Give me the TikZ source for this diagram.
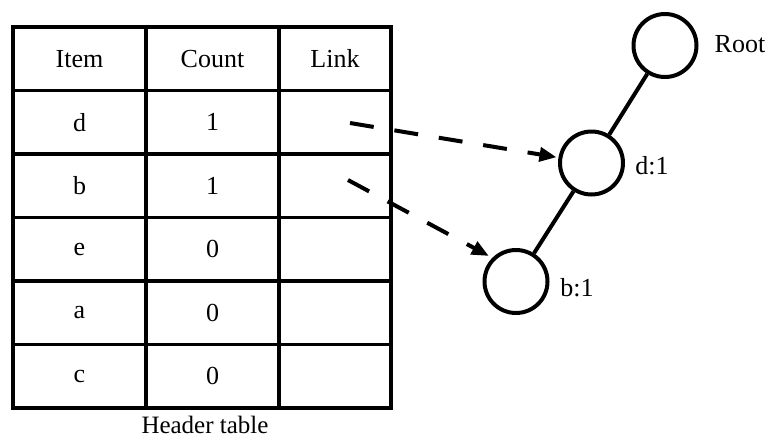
\documentclass[tikz,border=0pt]{standalone}
\usepackage{fontspec}
\setmainfont{Liberation Serif}
\usetikzlibrary{arrows.meta}
\begin{document}
\begin{tikzpicture}[x=1pt,y=-1pt,
  tbl/.style={line width=3.8pt},
  cell/.style={inner sep=0pt,font=\fontsize{26}{30}\selectfont},
  lbl/.style={inner sep=0pt,font=\fontsize{26}{30}\selectfont},
  tnode/.style={circle,draw,line width=4pt,minimum size=63pt,inner sep=0pt},
  edge/.style={line width=4pt},
  link/.style={line width=4pt,dash pattern=on 24pt off 21pt,-{Triangle[length=17pt,width=14pt]}}]
\useasboundingbox (0,0) rectangle (769,440);
% table
\draw[tbl] (13,27) rectangle (391,408);
\foreach \y in {90.5,154,217.5,281,344.5} \draw[tbl] (13,\y) -- (391,\y);
\foreach \x in {146,279} \draw[tbl] (\x,27) -- (\x,408);
% header
\node[cell] (hItem) at (79.5,58.75) {Item};
\node[cell] (hCount) at (212.5,58.75) {Count};
\node[cell] (hLink) at (335,58.75) {Link};
% rows
\node[cell] (i1) at (79.5,122.25) {d};
\node[cell] (c1) at (212.5,122.25) {1};
\node[cell] (i2) at (79.5,185.75) {b};
\node[cell] (c2) at (212.5,185.75) {1};
\node[cell] (i3) at (79.5,249.25) {e};
\node[cell] (c3) at (212.5,249.25) {0};
\node[cell] (i4) at (79.5,312.75) {a};
\node[cell] (c4) at (212.5,312.75) {0};
\node[cell] (i5) at (79.5,376.25) {c};
\node[cell] (c5) at (212.5,376.25) {0};
\node[lbl,font=\fontsize{25}{30}\selectfont] (cap) at (205,425) {Header table};
% tree
\node[tnode] (root) at (665,45.5) {};
\node[tnode] (d) at (591.5,163) {};
\node[tnode] (b) at (516,281.5) {};
\node[lbl] (lroot) at (740,44) {Root};
\node[lbl] (ld) at (652,166) {d:1};
\node[lbl] (lb) at (577,288) {b:1};
\draw[edge] (root) -- (d);
\draw[edge] (d) -- (b);
% links
\coordinate (s1) at (350,123);
\coordinate (s2) at (348,180);
\draw[link,shorten >=2pt] (s1) -- (d);
\draw[link,shorten >=4pt] (s2) -- (b.135);
\end{tikzpicture}
\end{document}
